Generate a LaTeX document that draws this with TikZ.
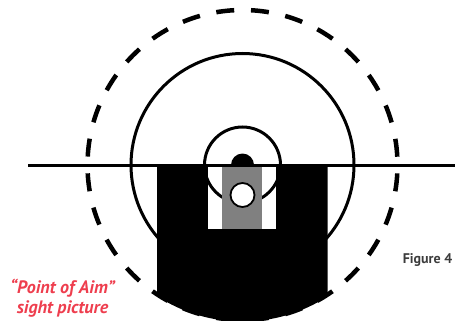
\documentclass[tikz,border=0pt]{standalone}
\usepackage{fontspec}
\setmainfont{PT Sans}
\definecolor{aimred}{HTML}{EE3E4E}
\definecolor{figgray}{HTML}{3C3C3C}
\definecolor{slotgray}{HTML}{808080}
\tikzset{
  ring/.style={draw=black,line width=3pt},
  dashring/.style={draw=black,line width=4.5pt,dash pattern=on 18pt off 16.79pt,dash phase=26.4pt},
  aimlabel/.style={text=aimred,font=\fontsize{18}{20.5}\selectfont\bfseries\itshape,align=center,inner sep=0pt},
  figlabel/.style={text=figgray,font=\fontsize{14}{16}\selectfont\bfseries,inner sep=0pt}
}
\begin{document}
\begin{tikzpicture}[x=1pt,y=-1pt]
\useasboundingbox (0,0) rectangle (455,321);
\coordinate (c) at (242.5,165);
% outer dashed ring
\draw[dashring] (c) circle (155);
% large ring
\draw[ring] (c) circle (111.5);
% black body, bounded by the ring at the bottom
\begin{scope}
  \clip (157,165) rectangle (327.5,321);
  \fill[black] (c) circle (156.5);
\end{scope}
% window
\fill[white] (208,165) rectangle (276,228.5);
% small ring
\draw[ring] (c) circle (38);
% slot and front sight
\fill[slotgray] (222,165) rectangle (262,228.5);
\begin{scope}
  \clip (220,140) rectangle (265,165);
  \fill[black] (c) circle (11.5);
\end{scope}
% horizontal reference line
\coordinate (la) at (28,165);
\coordinate (lb) at (455,165);
\draw[black,line width=3pt] (la) -- (lb);
% hole
\draw[black,fill=white,line width=1.8pt] (242.5,195) circle (12);
% labels
\node[aimlabel] (aim) at (62.5,298) {“Point of Aim”\\sight picture};
\node[figlabel] (fig) at (427.5,260) {Figure 4};
\end{tikzpicture}
\end{document}
